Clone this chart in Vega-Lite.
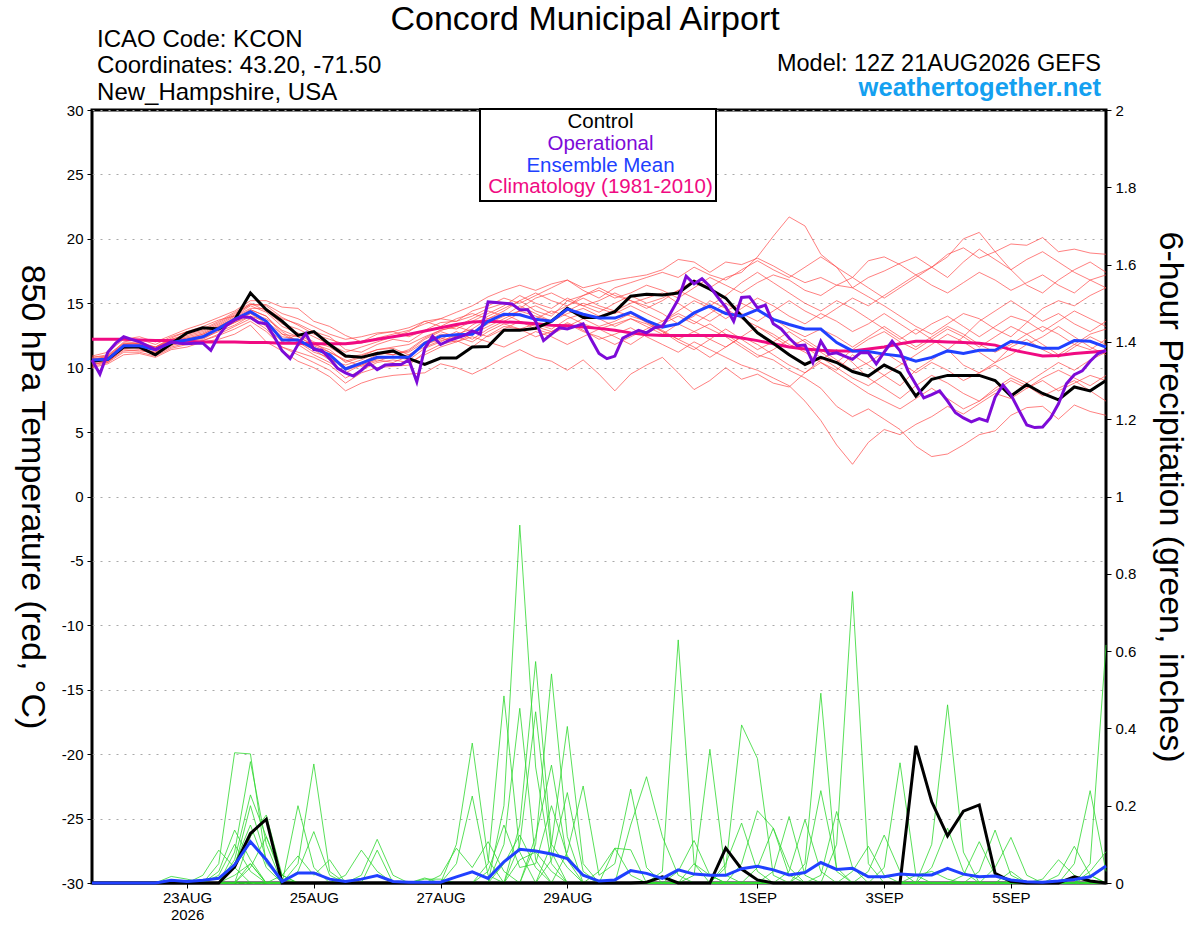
{
  "$schema": "https://vega.github.io/schema/vega-lite/v6.json",
  "width": 1014,
  "height": 773,
  "autosize": "none",
  "padding": {"left": 92, "top": 110, "right": 94, "bottom": 44},
  "background": "white",
  "config": {
    "font": "Liberation Sans",
    "view": {"stroke": "black", "strokeWidth": 3},
    "axis": {"domain": false, "tickColor": "black", "tickSize": 5, "tickWidth": 1, "labelColor": "black", "labelFontSize": 15, "labelPadding": 4, "titleColor": "black", "titleFontWeight": "normal", "titleFontSize": 34, "labelOverlap": false, "labelFlush": false}
  },
  "datasets": {
    "temp": [
      {"i":0,"C":10.5,"M":10.6,"K":12.2,"a":10.8,"b":10.4,"c":10.2,"d":10.5,"e":10.9,"f":10.0,"g":10.6,"h":10.3,"q":10.7,"j":10.4,"k":10.8,"l":10.1,"m":10.5,"n":10.3,"o":10.6,"p":10.7},
      {"i":1,"C":10.65,"M":10.65,"K":12.2,"a":11.0,"b":10.7,"c":10.5,"d":10.6,"e":11.2,"f":10.3,"g":10.9,"h":10.4,"q":10.8,"j":10.6,"k":10.9,"l":10.4,"m":10.7,"n":10.5,"o":10.8,"p":10.6},
      {"i":2,"C":11.6,"M":11.7,"K":12.2,"a":11.9,"b":11.6,"c":11.3,"d":11.8,"e":12.2,"f":11.0,"g":11.8,"h":11.5,"q":11.9,"j":11.4,"k":12.0,"l":11.2,"m":11.7,"n":11.5,"o":11.6,"p":11.8},
      {"i":3,"C":11.6,"M":11.7,"K":12.15,"a":12.0,"b":11.5,"c":11.4,"d":11.9,"e":12.4,"f":11.1,"g":11.7,"h":11.6,"q":11.8,"j":11.3,"k":12.2,"l":11.2,"m":11.6,"n":11.6,"o":11.8,"p":11.9},
      {"i":4,"C":11.0,"M":11.4,"K":12.1,"a":11.6,"b":11.2,"c":11.0,"d":11.3,"e":12.0,"f":10.8,"g":11.5,"h":11.1,"q":11.6,"j":11.2,"k":11.8,"l":10.9,"m":11.4,"n":11.3,"o":11.5,"p":11.6},
      {"i":5,"C":11.85,"M":11.95,"K":12.1,"a":12.2,"b":11.8,"c":11.6,"d":12.0,"e":12.5,"f":11.4,"g":12.1,"h":11.7,"q":12.3,"j":11.9,"k":12.4,"l":11.5,"m":12.0,"n":11.9,"o":12.2,"p":12.1},
      {"i":6,"C":12.7,"M":12.15,"K":12.05,"a":12.6,"b":12.0,"c":11.9,"d":12.3,"e":13.0,"f":11.6,"g":12.4,"h":12.1,"q":12.8,"j":12.0,"k":12.8,"l":11.8,"m":12.2,"n":12.1,"o":12.5,"p":12.3},
      {"i":7,"C":13.1,"M":12.4,"K":12.0,"a":12.9,"b":12.4,"c":12.1,"d":12.2,"e":13.4,"f":12.0,"g":12.7,"h":12.5,"q":13.2,"j":12.3,"k":13.0,"l":12.1,"m":12.6,"n":12.4,"o":12.8,"p":12.6},
      {"i":8,"C":13.0,"M":13.05,"K":12.0,"a":13.5,"b":13.1,"c":12.6,"d":12.9,"e":13.9,"f":12.2,"g":13.3,"h":13.0,"q":13.7,"j":12.8,"k":13.6,"l":12.5,"m":13.2,"n":13.0,"o":13.4,"p":13.2},
      {"i":9,"C":13.7,"M":13.75,"K":12.0,"a":14.2,"b":13.6,"c":13.2,"d":13.5,"e":14.4,"f":12.6,"g":14.0,"h":13.7,"q":14.0,"j":13.3,"k":14.3,"l":13.0,"m":13.9,"n":13.5,"o":14.1,"p":13.8},
      {"i":10,"C":15.8,"M":14.35,"K":11.95,"a":14.9,"b":14.5,"c":13.8,"d":14.0,"e":15.2,"f":13.3,"g":14.8,"h":14.2,"q":14.6,"j":14.0,"k":15.0,"l":13.6,"m":14.5,"n":14.2,"o":14.9,"p":14.4},
      {"i":11,"C":14.5,"M":13.6,"K":11.95,"a":14.8,"b":14.0,"c":13.0,"d":13.2,"e":15.2,"f":12.0,"g":14.3,"h":13.4,"q":14.6,"j":13.6,"k":14.4,"l":12.8,"m":14.0,"n":13.8,"o":14.9,"p":13.6},
      {"i":12,"C":13.6,"M":12.15,"K":11.9,"a":13.9,"b":12.8,"c":11.6,"d":12.0,"e":14.7,"f":11.3,"g":13.2,"h":12.2,"q":13.8,"j":12.4,"k":13.4,"l":11.6,"m":12.6,"n":12.9,"o":14.2,"p":12.6},
      {"i":13,"C":12.5,"M":12.15,"K":11.9,"a":13.3,"b":12.0,"c":11.0,"d":12.6,"e":14.6,"f":10.5,"g":12.7,"h":11.8,"q":13.4,"j":12.2,"k":13.0,"l":11.2,"m":12.4,"n":12.4,"o":13.8,"p":12.0},
      {"i":14,"C":12.8,"M":11.5,"K":11.85,"a":12.6,"b":11.4,"c":10.4,"d":11.9,"e":13.6,"f":10.0,"g":12.0,"h":11.0,"q":12.8,"j":11.6,"k":12.4,"l":10.8,"m":11.8,"n":11.7,"o":13.2,"p":11.2},
      {"i":15,"C":11.8,"M":11.0,"K":11.85,"a":12.2,"b":10.6,"c":9.8,"d":11.2,"e":13.2,"f":9.3,"g":11.6,"h":10.4,"q":12.4,"j":11.0,"k":11.8,"l":10.2,"m":11.4,"n":11.2,"o":12.6,"p":10.8},
      {"i":16,"C":10.9,"M":9.9,"K":11.85,"a":11.8,"b":10.2,"c":8.8,"d":10.6,"e":12.5,"f":8.2,"g":10.8,"h":9.6,"q":11.4,"j":10.0,"k":11.2,"l":9.2,"m":10.4,"n":10.5,"o":12.2,"p":9.8},
      {"i":17,"C":10.8,"M":10.35,"K":12.0,"a":11.9,"b":10.6,"c":9.6,"d":10.1,"e":12.0,"f":8.8,"g":11.0,"h":10.2,"q":11.2,"j":10.4,"k":11.6,"l":9.8,"m":10.8,"n":10.9,"o":12.4,"p":10.2},
      {"i":18,"C":11.1,"M":10.8,"K":12.2,"a":12.3,"b":11.2,"c":10.0,"d":10.5,"e":12.6,"f":9.2,"g":11.4,"h":10.6,"q":11.8,"j":11.0,"k":12.0,"l":10.4,"m":11.2,"n":11.4,"o":12.7,"p":10.7},
      {"i":19,"C":11.3,"M":10.8,"K":12.4,"a":12.6,"b":11.0,"c":10.1,"d":10.9,"e":12.8,"f":9.4,"g":11.6,"h":10.4,"q":12.2,"j":11.2,"k":12.4,"l":10.6,"m":11.0,"n":11.5,"o":12.8,"p":10.8},
      {"i":20,"C":10.7,"M":10.8,"K":12.6,"a":12.9,"b":11.3,"c":10.2,"d":10.6,"e":12.4,"f":9.5,"g":11.8,"h":10.9,"q":12.0,"j":11.2,"k":12.8,"l":10.4,"m":11.4,"n":11.0,"o":13.1,"p":11.0},
      {"i":21,"C":10.25,"M":11.9,"K":12.85,"a":13.4,"b":12.2,"c":11.2,"d":11.5,"e":12.9,"f":9.6,"g":12.4,"h":11.8,"q":12.8,"j":12.0,"k":13.6,"l":11.0,"m":12.3,"n":11.8,"o":13.6,"p":11.6},
      {"i":22,"C":10.75,"M":12.45,"K":13.1,"a":13.8,"b":12.8,"c":11.8,"d":12.0,"e":13.5,"f":10.3,"g":12.9,"h":12.2,"q":13.2,"j":12.6,"k":13.8,"l":11.6,"m":12.9,"n":12.3,"o":13.2,"p":12.1},
      {"i":23,"C":10.75,"M":12.55,"K":13.35,"a":14.3,"b":12.4,"c":12.1,"d":12.6,"e":13.6,"f":10.0,"g":13.2,"h":12.8,"q":13.0,"j":12.4,"k":13.6,"l":12.0,"m":13.2,"n":12.0,"o":13.8,"p":12.4},
      {"i":24,"C":11.6,"M":12.6,"K":13.55,"a":14.8,"b":13.3,"c":11.6,"d":13.0,"e":14.0,"f":9.5,"g":13.8,"h":12.2,"q":13.6,"j":12.0,"k":14.4,"l":12.4,"m":12.8,"n":12.6,"o":14.2,"p":12.8},
      {"i":25,"C":11.65,"M":13.6,"K":13.6,"a":15.5,"b":14.0,"c":12.5,"d":13.8,"e":14.6,"f":10.1,"g":14.4,"h":13.0,"q":14.2,"j":12.8,"k":14.8,"l":12.0,"m":13.4,"n":13.2,"o":13.8,"p":12.4},
      {"i":26,"C":12.9,"M":14.15,"K":13.55,"a":16.0,"b":14.6,"c":13.2,"d":14.2,"e":15.0,"f":10.8,"g":14.0,"h":13.6,"q":14.8,"j":13.4,"k":15.4,"l":11.6,"m":14.0,"n":13.8,"o":14.4,"p":13.0},
      {"i":27,"C":12.9,"M":14.1,"K":13.5,"a":16.4,"b":15.2,"c":13.0,"d":13.6,"e":14.6,"f":11.4,"g":14.8,"h":14.2,"q":15.6,"j":13.0,"k":15.0,"l":12.2,"m":14.4,"n":14.4,"o":15.2,"p":13.6},
      {"i":28,"C":13.05,"M":13.75,"K":13.4,"a":16.0,"b":14.4,"c":12.4,"d":13.0,"e":15.4,"f":10.8,"g":14.2,"h":13.8,"q":15.0,"j":13.4,"k":15.6,"l":12.8,"m":14.0,"n":14.8,"o":15.8,"p":13.2},
      {"i":29,"C":13.6,"M":13.6,"K":13.3,"a":16.5,"b":14.0,"c":12.8,"d":12.6,"e":15.8,"f":10.5,"g":13.6,"h":14.4,"q":14.6,"j":13.0,"k":16.2,"l":12.4,"m":13.6,"n":14.2,"o":15.2,"p":12.8},
      {"i":30,"C":14.6,"M":14.55,"K":13.25,"a":16.8,"b":15.2,"c":13.5,"d":13.2,"e":15.2,"f":9.8,"g":14.4,"h":14.0,"q":15.4,"j":13.8,"k":16.8,"l":11.8,"m":14.2,"n":14.8,"o":14.8,"p":13.4},
      {"i":31,"C":13.9,"M":14.15,"K":13.15,"a":16.2,"b":14.8,"c":12.9,"d":13.8,"e":15.6,"f":10.6,"g":15.0,"h":13.4,"q":14.8,"j":14.2,"k":16.0,"l":12.4,"m":14.6,"n":15.4,"o":15.6,"p":12.8},
      {"i":32,"C":13.9,"M":13.85,"K":13.05,"a":16.5,"b":14.3,"c":12.2,"d":13.2,"e":16.0,"f":9.5,"g":14.6,"h":13.0,"q":15.2,"j":13.8,"k":15.4,"l":13.0,"m":14.0,"n":14.8,"o":16.2,"p":12.4},
      {"i":33,"C":14.35,"M":13.85,"K":12.9,"a":16.8,"b":15.0,"c":12.6,"d":13.6,"e":15.4,"f":8.2,"g":14.2,"h":13.4,"q":15.8,"j":13.2,"k":16.2,"l":12.4,"m":14.4,"n":14.4,"o":15.6,"p":11.8},
      {"i":34,"C":15.55,"M":14.3,"K":12.7,"a":17.0,"b":15.6,"c":13.1,"d":14.2,"e":15.8,"f":9.5,"g":14.8,"h":13.8,"q":15.2,"j":13.8,"k":16.6,"l":11.8,"m":14.0,"n":15.0,"o":15.2,"p":12.4},
      {"i":35,"C":15.7,"M":13.65,"K":12.55,"a":17.2,"b":15.0,"c":12.4,"d":13.5,"e":16.4,"f":10.2,"g":14.2,"h":13.2,"q":14.6,"j":13.4,"k":17.0,"l":12.6,"m":13.6,"n":15.4,"o":14.8,"p":13.0},
      {"i":36,"C":15.65,"M":13.15,"K":12.5,"a":17.6,"b":15.4,"c":11.8,"d":12.9,"e":16.0,"f":10.8,"g":13.6,"h":12.6,"q":15.2,"j":12.8,"k":17.4,"l":13.4,"m":12.8,"n":15.8,"o":14.2,"p":13.6},
      {"i":37,"C":15.8,"M":13.4,"K":12.5,"a":18.4,"b":16.0,"c":11.2,"d":12.2,"e":15.4,"f":9.6,"g":14.4,"h":13.4,"q":16.0,"j":12.0,"k":17.0,"l":14.0,"m":12.2,"n":15.0,"o":13.4,"p":14.2},
      {"i":38,"C":16.7,"M":14.25,"K":12.5,"a":18.2,"b":16.8,"c":12.0,"d":12.8,"e":16.2,"f":8.3,"g":15.2,"h":14.0,"q":15.4,"j":11.4,"k":17.8,"l":13.4,"m":11.6,"n":14.2,"o":12.8,"p":13.6},
      {"i":39,"C":16.1,"M":14.8,"K":12.5,"a":17.4,"b":16.2,"c":11.4,"d":13.4,"e":17.0,"f":9.0,"g":14.6,"h":15.2,"q":14.8,"j":12.2,"k":17.2,"l":14.2,"m":10.8,"n":13.6,"o":12.2,"p":13.0},
      {"i":40,"C":15.4,"M":14.2,"K":12.5,"a":18.2,"b":17.0,"c":10.8,"d":12.6,"e":16.4,"f":10.0,"g":13.8,"h":14.6,"q":15.6,"j":13.0,"k":16.8,"l":15.0,"m":11.6,"n":14.4,"o":11.6,"p":12.4},
      {"i":41,"C":14.0,"M":14.0,"K":12.3,"a":18.0,"b":17.4,"c":10.2,"d":11.8,"e":15.8,"f":9.1,"g":14.6,"h":13.8,"q":16.6,"j":12.2,"k":17.6,"l":14.2,"m":12.4,"n":15.0,"o":12.4,"p":11.6},
      {"i":42,"C":12.7,"M":14.5,"K":12.1,"a":18.5,"b":18.6,"c":9.8,"d":11.0,"e":16.6,"f":9.5,"g":15.4,"h":13.2,"q":17.4,"j":11.4,"k":18.3,"l":13.6,"m":11.8,"n":14.4,"o":13.2,"p":10.8},
      {"i":43,"C":11.9,"M":13.75,"K":11.85,"a":17.9,"b":20.2,"c":9.2,"d":10.6,"e":17.2,"f":8.8,"g":14.8,"h":12.4,"q":16.6,"j":12.0,"k":17.6,"l":14.4,"m":11.0,"n":13.8,"o":12.6,"p":11.4},
      {"i":44,"C":11.0,"M":13.35,"K":11.6,"a":17.2,"b":21.7,"c":8.6,"d":9.8,"e":16.8,"f":8.5,"g":14.0,"h":11.6,"q":15.8,"j":12.8,"k":17.0,"l":15.2,"m":10.2,"n":13.0,"o":11.8,"p":12.2},
      {"i":45,"C":10.25,"M":13.0,"K":11.45,"a":16.6,"b":21.0,"c":7.4,"d":9.2,"e":16.0,"f":9.6,"g":13.4,"h":12.2,"q":15.0,"j":12.0,"k":17.8,"l":14.4,"m":9.6,"n":12.4,"o":11.2,"p":11.6},
      {"i":46,"C":10.8,"M":13.0,"K":11.35,"a":17.0,"b":18.8,"c":5.9,"d":8.4,"e":15.6,"f":10.4,"g":14.2,"h":11.4,"q":14.4,"j":11.2,"k":18.6,"l":13.8,"m":10.6,"n":13.0,"o":10.4,"p":10.8},
      {"i":47,"C":10.4,"M":11.95,"K":11.3,"a":16.4,"b":17.8,"c":4.0,"d":7.0,"e":16.4,"f":9.8,"g":13.6,"h":10.6,"q":15.2,"j":10.4,"k":17.8,"l":14.6,"m":11.4,"n":12.4,"o":9.6,"p":10.0},
      {"i":48,"C":9.7,"M":11.3,"K":11.3,"a":16.2,"b":16.2,"c":2.5,"d":6.2,"e":17.0,"f":11.0,"g":12.8,"h":9.8,"q":14.6,"j":11.4,"k":17.0,"l":15.4,"m":10.4,"n":11.6,"o":8.8,"p":9.2},
      {"i":49,"C":9.35,"M":11.25,"K":11.45,"a":17.0,"b":15.5,"c":4.2,"d":6.8,"e":18.3,"f":10.2,"g":13.4,"h":10.4,"q":13.8,"j":12.2,"k":16.2,"l":14.8,"m":9.2,"n":12.4,"o":8.0,"p":8.6},
      {"i":50,"C":10.2,"M":11.05,"K":11.6,"a":17.5,"b":14.8,"c":5.2,"d":6.0,"e":18.6,"f":9.4,"g":14.2,"h":11.2,"q":13.0,"j":12.8,"k":15.4,"l":15.6,"m":8.4,"n":13.2,"o":7.4,"p":9.4},
      {"i":51,"C":9.6,"M":10.9,"K":11.85,"a":18.1,"b":14.0,"c":4.8,"d":5.2,"e":18.0,"f":8.6,"g":13.4,"h":10.4,"q":12.2,"j":12.0,"k":16.2,"l":16.4,"m":7.6,"n":12.4,"o":6.8,"p":10.2},
      {"i":52,"C":7.8,"M":10.5,"K":12.05,"a":18.6,"b":13.2,"c":5.6,"d":3.9,"e":17.2,"f":9.8,"g":12.6,"h":9.6,"q":13.0,"j":11.4,"k":17.0,"l":17.2,"m":8.6,"n":11.6,"o":7.6,"p":11.0},
      {"i":53,"C":9.1,"M":10.8,"K":12.05,"a":17.8,"b":12.6,"c":6.2,"d":3.1,"e":16.4,"f":10.6,"g":13.4,"h":10.4,"q":12.2,"j":12.2,"k":17.8,"l":17.8,"m":9.4,"n":12.4,"o":8.4,"p":11.8},
      {"i":54,"C":9.4,"M":11.3,"K":12.0,"a":18.8,"b":13.4,"c":7.0,"d":3.3,"e":15.8,"f":11.4,"g":14.0,"h":9.8,"q":11.4,"j":13.0,"k":17.0,"l":18.6,"m":8.8,"n":13.2,"o":7.6,"p":12.6},
      {"i":55,"C":9.4,"M":11.1,"K":11.95,"a":19.3,"b":14.2,"c":6.4,"d":4.0,"e":16.6,"f":10.2,"g":13.2,"h":9.0,"q":12.4,"j":12.4,"k":18.2,"l":20.0,"m":8.0,"n":12.6,"o":6.8,"p":12.0},
      {"i":56,"C":9.4,"M":11.35,"K":11.9,"a":18.5,"b":13.8,"c":7.2,"d":4.8,"e":17.4,"f":9.6,"g":12.4,"h":9.6,"q":13.6,"j":11.6,"k":19.2,"l":20.5,"m":7.4,"n":11.8,"o":7.4,"p":11.2},
      {"i":57,"C":9.0,"M":11.35,"K":11.75,"a":19.0,"b":13.0,"c":8.0,"d":5.1,"e":16.8,"f":10.4,"g":13.2,"h":10.2,"q":14.4,"j":12.4,"k":18.4,"l":19.0,"m":8.4,"n":11.2,"o":8.2,"p":10.4},
      {"i":58,"C":7.8,"M":12.05,"K":11.4,"a":19.6,"b":12.4,"c":7.6,"d":6.3,"e":16.0,"f":11.6,"g":14.0,"h":9.4,"q":15.2,"j":13.2,"k":17.6,"l":17.6,"m":9.2,"n":11.8,"o":9.0,"p":11.0},
      {"i":59,"C":8.7,"M":11.85,"K":11.15,"a":19.5,"b":13.5,"c":8.4,"d":6.9,"e":16.6,"f":12.2,"g":13.6,"h":8.8,"q":14.4,"j":12.6,"k":18.4,"l":16.4,"m":8.6,"n":12.6,"o":8.4,"p":11.8},
      {"i":60,"C":8.0,"M":11.5,"K":10.9,"a":20.1,"b":14.6,"c":9.0,"d":7.0,"e":17.2,"f":11.4,"g":12.8,"h":9.6,"q":13.6,"j":11.8,"k":19.0,"l":15.8,"m":7.8,"n":13.2,"o":9.2,"p":12.4},
      {"i":61,"C":7.5,"M":11.5,"K":10.95,"a":19.0,"b":15.2,"c":8.2,"d":6.0,"e":16.4,"f":10.8,"g":13.6,"h":10.4,"q":14.2,"j":11.0,"k":18.2,"l":16.8,"m":8.4,"n":12.6,"o":9.8,"p":13.2},
      {"i":62,"C":8.5,"M":12.1,"K":11.1,"a":19.2,"b":14.8,"c":8.8,"d":7.1,"e":15.8,"f":11.6,"g":14.4,"h":9.8,"q":13.4,"j":11.8,"k":17.4,"l":17.6,"m":9.0,"n":11.8,"o":9.2,"p":12.4},
      {"i":63,"C":8.2,"M":12.05,"K":11.2,"a":18.9,"b":15.6,"c":9.4,"d":6.6,"e":16.8,"f":12.4,"g":13.8,"h":10.6,"q":12.8,"j":12.6,"k":16.8,"l":18.2,"m":8.2,"n":11.4,"o":8.6,"p":11.6},
      {"i":64,"C":9.0,"M":11.6,"K":11.3,"a":18.8,"b":16.2,"c":9.0,"d":6.3,"e":17.2,"f":11.8,"g":13.2,"h":11.2,"q":13.6,"j":13.0,"k":16.2,"l":17.4,"m":7.4,"n":12.2,"o":9.4,"p":11.0}
    ],
    "oper": [
      {"i":0,"v":10.6},{"i":0.5,"v":9.5},{"i":1,"v":11.2},{"i":1.5,"v":11.9},{"i":2,"v":12.4},{"i":2.5,"v":12.2},{"i":3,"v":12.0},{"i":3.5,"v":11.7},{"i":4,"v":11.4},{"i":4.5,"v":11.7},
      {"i":5,"v":12.0},{"i":5.5,"v":11.9},{"i":6,"v":11.85},{"i":6.5,"v":11.9},{"i":7,"v":11.9},{"i":7.5,"v":11.35},{"i":8,"v":12.5},{"i":8.5,"v":13.3},{"i":9,"v":13.7},{"i":9.5,"v":13.95},
      {"i":10,"v":13.9},{"i":10.5,"v":13.5},{"i":11,"v":13.4},{"i":11.5,"v":12.4},{"i":12,"v":11.3},{"i":12.5,"v":10.7},{"i":13,"v":11.8},{"i":13.5,"v":12.65},{"i":14,"v":11.4},{"i":14.5,"v":11.35},
      {"i":15,"v":10.7},{"i":15.5,"v":9.95},{"i":16,"v":9.6},{"i":16.5,"v":9.35},{"i":17,"v":9.8},{"i":17.5,"v":10.35},{"i":18,"v":9.85},{"i":18.5,"v":10.2},{"i":19,"v":10.25},{"i":19.5,"v":10.25},
      {"i":20,"v":10.6},{"i":20.5,"v":8.9},{"i":21,"v":11.5},{"i":21.5,"v":12.45},{"i":22,"v":11.8},{"i":22.5,"v":12.1},{"i":23,"v":12.3},{"i":23.5,"v":12.5},{"i":24,"v":12.85},{"i":24.5,"v":12.6},
      {"i":25,"v":15.1},{"i":25.5,"v":15.05},{"i":26,"v":15.0},{"i":26.5,"v":14.95},{"i":27,"v":14.5},{"i":27.5,"v":14.5},{"i":28,"v":13.6},{"i":28.5,"v":12.1},{"i":29,"v":12.6},{"i":29.5,"v":13.1},
      {"i":30,"v":13.0},{"i":30.5,"v":13.2},{"i":31,"v":13.4},{"i":31.5,"v":12.2},{"i":32,"v":11.1},{"i":32.5,"v":10.7},{"i":33,"v":10.9},{"i":33.5,"v":12.3},{"i":34,"v":12.6},{"i":34.5,"v":12.9},
      {"i":35,"v":12.7},{"i":35.5,"v":13.1},{"i":36,"v":13.2},{"i":36.5,"v":14.2},{"i":37,"v":15.3},{"i":37.5,"v":17.1},{"i":38,"v":16.5},{"i":38.5,"v":16.9},{"i":39,"v":16.3},{"i":39.5,"v":15.45},
      {"i":40,"v":14.7},{"i":40.5,"v":13.6},{"i":41,"v":15.45},{"i":41.5,"v":15.5},{"i":42,"v":14.65},{"i":42.5,"v":14.85},{"i":43,"v":13.4},{"i":43.5,"v":13.0},{"i":44,"v":12.3},{"i":44.5,"v":11.7},
      {"i":45,"v":11.75},{"i":45.5,"v":10.4},{"i":46,"v":12.05},{"i":46.5,"v":11.05},{"i":47,"v":11.15},{"i":47.5,"v":10.9},{"i":48,"v":10.65},{"i":48.5,"v":11.15},{"i":49,"v":11.15},{"i":49.5,"v":10.3},
      {"i":50,"v":11.2},{"i":50.5,"v":12.05},{"i":51,"v":11.3},{"i":51.5,"v":9.75},{"i":52,"v":8.7},{"i":52.5,"v":7.65},{"i":53,"v":7.9},{"i":53.5,"v":8.2},{"i":54,"v":7.4},{"i":54.5,"v":6.5},
      {"i":55,"v":6.1},{"i":55.5,"v":5.8},{"i":56,"v":6.05},{"i":56.5,"v":5.85},{"i":57,"v":7.7},{"i":57.5,"v":8.65},{"i":58,"v":7.9},{"i":58.5,"v":6.7},{"i":59,"v":5.55},{"i":59.5,"v":5.35},
      {"i":60,"v":5.4},{"i":60.5,"v":6.1},{"i":61,"v":7.2},{"i":61.5,"v":8.75},{"i":62,"v":9.45},{"i":62.5,"v":9.75},{"i":63,"v":10.5},{"i":63.5,"v":11.1},{"i":64,"v":11.35}
    ],
    "prcp": [
      {"i":0,"C":0,"M":0,"a":0,"b":0,"c":0,"d":0,"e":0,"f":0,"g":0,"h":0,"q":0,"j":0,"k":0,"l":0,"m":0,"n":0,"o":0,"p":0},
      {"i":1,"C":0,"M":0,"a":0,"b":0,"c":0,"d":0,"e":0,"f":0,"g":0,"h":0,"q":0,"j":0,"k":0,"l":0,"m":0,"n":0,"o":0,"p":0},
      {"i":2,"C":0,"M":0,"a":0,"b":0,"c":0,"d":0,"e":0,"f":0,"g":0,"h":0,"q":0,"j":0,"k":0,"l":0,"m":0,"n":0,"o":0,"p":0},
      {"i":3,"C":0,"M":0,"a":0,"b":0,"c":0,"d":0,"e":0,"f":0,"g":0,"h":0,"q":0,"j":0,"k":0,"l":0,"m":0,"n":0,"o":0,"p":0},
      {"i":4,"C":0,"M":0,"a":0,"b":0,"c":0,"d":0,"e":0,"f":0,"g":0,"h":0,"q":0,"j":0,"k":0,"l":0,"m":0,"n":0,"o":0,"p":0},
      {"i":5,"C":0,"M":0.007,"a":0,"b":0,"c":0,"d":0,"e":0,"f":0,"g":0,"h":0,"q":0,"j":0,"k":0,"l":0,"m":0,"n":0,"o":0,"p":0.017},
      {"i":6,"C":0,"M":0.004,"a":0,"b":0,"c":0,"d":0,"e":0,"f":0,"g":0,"h":0,"q":0,"j":0,"k":0,"l":0,"m":0,"n":0,"o":0,"p":0.01},
      {"i":7,"C":0,"M":0.007,"a":0,"b":0,"c":0,"d":0,"e":0,"f":0,"g":0.02,"h":0,"q":0,"j":0,"k":0,"l":0,"m":0,"n":0,"o":0,"p":0},
      {"i":8,"C":0,"M":0.012,"a":0.05,"b":0,"c":0,"d":0,"e":0.03,"f":0,"g":0.085,"h":0,"q":0,"j":0,"k":0,"l":0,"m":0,"n":0,"o":0.02,"p":0},
      {"i":9,"C":0.042,"M":0.047,"a":0.337,"b":0.08,"c":0.06,"d":0,"e":0.137,"f":0.04,"g":0.04,"h":0,"q":0,"j":0,"k":0,"l":0.02,"m":0.05,"n":0,"o":0.1,"p":0},
      {"i":10,"C":0.128,"M":0.107,"a":0.334,"b":0.314,"c":0.228,"d":0.12,"e":0.06,"f":0.2,"g":0,"h":0,"q":0,"j":0.05,"k":0,"l":0.05,"m":0.15,"n":0.04,"o":0.03,"p":0},
      {"i":11,"C":0.165,"M":0.06,"a":0.05,"b":0.1,"c":0.12,"d":0.176,"e":0,"f":0.06,"g":0,"h":0,"q":0,"j":0,"k":0,"l":0,"m":0.04,"n":0.12,"o":0,"p":0},
      {"i":12,"C":0,"M":0.004,"a":0.01,"b":0,"c":0.02,"d":0.02,"e":0,"f":0,"g":0,"h":0,"q":0,"j":0,"k":0.02,"l":0,"m":0,"n":0.01,"o":0,"p":0},
      {"i":13,"C":0,"M":0.026,"a":0,"b":0.05,"c":0,"d":0,"e":0.2,"f":0,"g":0,"h":0.03,"q":0,"j":0,"k":0.07,"l":0,"m":0,"n":0,"o":0,"p":0},
      {"i":14,"C":0,"M":0.026,"a":0,"b":0.308,"c":0,"d":0,"e":0.04,"f":0,"g":0,"h":0.133,"q":0,"j":0,"k":0.02,"l":0,"m":0,"n":0,"o":0,"p":0},
      {"i":15,"C":0,"M":0.01,"a":0,"b":0.03,"c":0,"d":0,"e":0,"f":0,"g":0,"h":0.02,"q":0,"j":0,"k":0.06,"l":0,"m":0,"n":0,"o":0,"p":0},
      {"i":16,"C":0,"M":0.004,"a":0,"b":0,"c":0,"d":0,"e":0,"f":0,"g":0,"h":0,"q":0,"j":0.02,"k":0,"l":0,"m":0,"n":0,"o":0,"p":0},
      {"i":17,"C":0,"M":0.01,"a":0,"b":0,"c":0,"d":0,"e":0,"f":0,"g":0,"h":0,"q":0.02,"j":0.085,"k":0,"l":0,"m":0,"n":0,"o":0,"p":0},
      {"i":18,"C":0,"M":0.019,"a":0,"b":0,"c":0,"d":0,"e":0,"f":0,"g":0,"h":0,"q":0.113,"j":0.03,"k":0,"l":0.085,"m":0,"n":0,"o":0,"p":0},
      {"i":19,"C":0,"M":0.004,"a":0,"b":0,"c":0,"d":0,"e":0,"f":0,"g":0,"h":0,"q":0.02,"j":0,"k":0,"l":0,"m":0,"n":0,"o":0,"p":0},
      {"i":20,"C":0,"M":0.002,"a":0,"b":0,"c":0,"d":0,"e":0,"f":0,"g":0,"h":0,"q":0,"j":0,"k":0,"l":0,"m":0,"n":0,"o":0,"p":0},
      {"i":21,"C":0,"M":0.002,"a":0,"b":0,"c":0,"d":0,"e":0,"f":0,"g":0,"h":0,"q":0,"j":0,"k":0,"l":0,"m":0,"n":0,"o":0.01,"p":0.013},
      {"i":22,"C":0,"M":0.002,"a":0,"b":0,"c":0,"d":0,"e":0,"f":0,"g":0,"h":0,"q":0,"j":0,"k":0.02,"l":0,"m":0,"n":0,"o":0.01,"p":0},
      {"i":23,"C":0,"M":0.016,"a":0,"b":0,"c":0,"d":0,"e":0,"f":0,"g":0.1,"h":0.05,"q":0,"j":0,"k":0.09,"l":0,"m":0,"n":0,"o":0,"p":0},
      {"i":24,"C":0,"M":0.029,"a":0,"b":0,"c":0,"d":0,"e":0,"f":0,"g":0.362,"h":0.225,"q":0,"j":0,"k":0.04,"l":0,"m":0,"n":0,"o":0,"p":0},
      {"i":25,"C":0,"M":0.012,"a":0,"b":0,"c":0,"d":0.05,"e":0,"f":0,"g":0.06,"h":0.02,"q":0,"j":0,"k":0.107,"l":0,"m":0,"n":0,"o":0,"p":0.03},
      {"i":26,"C":0,"M":0.055,"a":0.2,"b":0,"c":0,"d":0.484,"e":0.1,"f":0,"g":0,"h":0,"q":0,"j":0,"k":0.03,"l":0.05,"m":0,"n":0,"o":0,"p":0.15},
      {"i":27,"C":0,"M":0.087,"a":0.926,"b":0.15,"c":0,"d":0.08,"e":0.452,"f":0,"g":0,"h":0,"q":0,"j":0,"k":0,"l":0.124,"m":0.1,"n":0,"o":0.06,"p":0.04},
      {"i":28,"C":0,"M":0.083,"a":0.3,"b":0.573,"c":0.1,"d":0,"e":0.06,"f":0,"g":0,"h":0.12,"q":0,"j":0,"k":0,"l":0.04,"m":0.443,"n":0,"o":0.08,"p":0.05},
      {"i":29,"C":0,"M":0.075,"a":0.05,"b":0.1,"c":0.541,"d":0,"e":0,"f":0.1,"g":0,"h":0.305,"q":0,"j":0.06,"k":0,"l":0,"m":0.08,"n":0,"o":0.03,"p":0.2},
      {"i":30,"C":0,"M":0.063,"a":0,"b":0.04,"c":0.12,"d":0,"e":0,"f":0.405,"g":0,"h":0.06,"q":0.08,"j":0.234,"k":0,"l":0,"m":0,"n":0,"o":0,"p":0.07},
      {"i":31,"C":0,"M":0.02,"a":0,"b":0,"c":0,"d":0,"e":0,"f":0.05,"g":0,"h":0,"q":0.251,"j":0.03,"k":0,"l":0,"m":0,"n":0,"o":0,"p":0.02},
      {"i":32,"C":0,"M":0.005,"a":0,"b":0,"c":0,"d":0,"e":0,"f":0,"g":0,"h":0,"q":0.02,"j":0,"k":0,"l":0,"m":0,"n":0.03,"o":0,"p":0},
      {"i":33,"C":0,"M":0.008,"a":0,"b":0,"c":0,"d":0,"e":0,"f":0,"g":0,"h":0,"q":0.05,"j":0,"k":0,"l":0,"m":0,"n":0.09,"o":0.09,"p":0},
      {"i":34,"C":0,"M":0.032,"a":0,"b":0,"c":0,"d":0,"e":0,"f":0,"g":0.15,"h":0,"q":0.243,"j":0,"k":0,"l":0,"m":0,"n":0.086,"o":0.02,"p":0},
      {"i":35,"C":0.002,"M":0.025,"a":0,"b":0,"c":0,"d":0,"e":0,"f":0,"g":0.275,"h":0,"q":0.04,"j":0,"k":0,"l":0,"m":0,"n":0,"o":0,"p":0},
      {"i":36,"C":0.016,"M":0.012,"a":0,"b":0,"c":0.03,"d":0,"e":0,"f":0,"g":0.12,"h":0,"q":0,"j":0,"k":0,"l":0,"m":0,"n":0,"o":0,"p":0},
      {"i":37,"C":0,"M":0.034,"a":0,"b":0,"c":0.629,"d":0,"e":0,"f":0,"g":0.02,"h":0,"q":0,"j":0,"k":0,"l":0,"m":0,"n":0.03,"o":0,"p":0},
      {"i":38,"C":0,"M":0.023,"a":0,"b":0,"c":0.05,"d":0,"e":0.02,"f":0,"g":0,"h":0,"q":0,"j":0,"k":0,"l":0,"m":0,"n":0.11,"o":0,"p":0.05},
      {"i":39,"C":0,"M":0.02,"a":0,"b":0,"c":0,"d":0,"e":0.346,"f":0,"g":0,"h":0,"q":0,"j":0,"k":0,"l":0,"m":0,"n":0.02,"o":0,"p":0.02},
      {"i":40,"C":0.09,"M":0.02,"a":0,"b":0,"c":0,"d":0.04,"e":0.02,"f":0,"g":0,"h":0,"q":0,"j":0,"k":0,"l":0.05,"m":0,"n":0,"o":0,"p":0},
      {"i":41,"C":0.036,"M":0.037,"a":0,"b":0,"c":0,"d":0.409,"e":0,"f":0,"g":0,"h":0,"q":0,"j":0.05,"k":0,"l":0.155,"m":0,"n":0,"o":0,"p":0},
      {"i":42,"C":0.008,"M":0.043,"a":0,"b":0,"c":0,"d":0.322,"e":0,"f":0,"g":0,"h":0,"q":0,"j":0.187,"k":0,"l":0.03,"m":0,"n":0,"o":0.04,"p":0},
      {"i":43,"C":0,"M":0.034,"a":0,"b":0,"c":0,"d":0.02,"e":0,"f":0.03,"g":0,"h":0,"q":0,"j":0.142,"k":0,"l":0,"m":0,"n":0,"o":0.142,"p":0},
      {"i":44,"C":0,"M":0.021,"a":0,"b":0,"c":0,"d":0,"e":0,"f":0.172,"g":0,"h":0,"q":0,"j":0.04,"k":0,"l":0,"m":0.03,"n":0,"o":0.02,"p":0},
      {"i":45,"C":0,"M":0.027,"a":0,"b":0.05,"c":0,"d":0,"e":0,"f":0.02,"g":0.03,"h":0,"q":0,"j":0,"k":0,"l":0,"m":0.164,"n":0,"o":0,"p":0},
      {"i":46,"C":0,"M":0.053,"a":0,"b":0.491,"c":0,"d":0,"e":0,"f":0,"g":0.239,"h":0.02,"q":0,"j":0,"k":0,"l":0,"m":0.03,"n":0,"o":0,"p":0},
      {"i":47,"C":0,"M":0.035,"a":0.1,"b":0.03,"c":0,"d":0,"e":0,"f":0,"g":0.04,"h":0.185,"q":0,"j":0,"k":0,"l":0,"m":0,"n":0,"o":0,"p":0},
      {"i":48,"C":0,"M":0.038,"a":0.754,"b":0,"c":0,"d":0,"e":0,"f":0,"g":0,"h":0.04,"q":0,"j":0,"k":0,"l":0,"m":0,"n":0.03,"o":0,"p":0},
      {"i":49,"C":0,"M":0.016,"a":0.05,"b":0,"c":0,"d":0,"e":0,"f":0,"g":0,"h":0,"q":0,"j":0,"k":0,"l":0.03,"m":0,"n":0.095,"o":0,"p":0},
      {"i":50,"C":0,"M":0.016,"a":0,"b":0,"c":0,"d":0,"e":0.04,"f":0,"g":0,"h":0,"q":0,"j":0,"k":0,"l":0.124,"m":0,"n":0.02,"o":0,"p":0},
      {"i":51,"C":0,"M":0.023,"a":0,"b":0,"c":0,"d":0,"e":0.311,"f":0,"g":0,"h":0,"q":0,"j":0,"k":0,"l":0.03,"m":0,"n":0,"o":0,"p":0},
      {"i":52,"C":0.355,"M":0.021,"a":0,"b":0,"c":0,"d":0,"e":0.02,"f":0,"g":0,"h":0,"q":0,"j":0,"k":0,"l":0,"m":0,"n":0,"o":0,"p":0.02},
      {"i":53,"C":0.21,"M":0.021,"a":0,"b":0,"c":0.1,"d":0,"e":0,"f":0,"g":0,"h":0,"q":0.04,"j":0,"k":0,"l":0,"m":0,"n":0,"o":0,"p":0.03},
      {"i":54,"C":0.122,"M":0.038,"a":0,"b":0,"c":0.461,"d":0,"e":0,"f":0,"g":0,"h":0,"q":0.142,"j":0,"k":0,"l":0,"m":0,"n":0,"o":0,"p":0.01},
      {"i":55,"C":0.186,"M":0.023,"a":0,"b":0,"c":0.08,"d":0,"e":0,"f":0,"g":0,"h":0,"q":0.03,"j":0,"k":0,"l":0.02,"m":0,"n":0,"o":0,"p":0},
      {"i":56,"C":0.202,"M":0.016,"a":0,"b":0,"c":0,"d":0,"e":0,"f":0,"g":0,"h":0,"q":0,"j":0.03,"k":0,"l":0.107,"m":0,"n":0,"o":0,"p":0},
      {"i":57,"C":0.025,"M":0.018,"a":0,"b":0,"c":0,"d":0,"e":0,"f":0,"g":0,"h":0,"q":0,"j":0.137,"k":0.04,"l":0.02,"m":0,"n":0,"o":0,"p":0},
      {"i":58,"C":0.004,"M":0.008,"a":0,"b":0,"c":0,"d":0.03,"e":0,"f":0,"g":0,"h":0,"q":0,"j":0.02,"k":0.118,"l":0,"m":0,"n":0,"o":0,"p":0},
      {"i":59,"C":0,"M":0.003,"a":0,"b":0,"c":0,"d":0,"e":0,"f":0,"g":0,"h":0,"q":0,"j":0,"k":0.02,"l":0,"m":0,"n":0,"o":0,"p":0},
      {"i":60,"C":0,"M":0.002,"a":0,"b":0,"c":0,"d":0,"e":0,"f":0,"g":0,"h":0,"q":0,"j":0,"k":0,"l":0,"m":0,"n":0.01,"o":0,"p":0},
      {"i":61,"C":0,"M":0.005,"a":0,"b":0,"c":0,"d":0,"e":0,"f":0,"g":0,"h":0,"q":0,"j":0,"k":0,"l":0,"m":0.02,"n":0.06,"o":0,"p":0},
      {"i":62,"C":0.016,"M":0.009,"a":0,"b":0,"c":0,"d":0,"e":0,"f":0.05,"g":0,"h":0,"q":0,"j":0,"k":0,"l":0,"m":0.095,"n":0.02,"o":0,"p":0},
      {"i":63,"C":0.005,"M":0.016,"a":0.02,"b":0.05,"c":0,"d":0,"e":0,"f":0.239,"g":0,"h":0,"q":0,"j":0,"k":0,"l":0,"m":0.02,"n":0,"o":0.03,"p":0},
      {"i":64,"C":0,"M":0.044,"a":0,"b":0.616,"c":0,"d":0,"e":0,"f":0.03,"g":0,"h":0,"q":0,"j":0,"k":0,"l":0,"m":0,"n":0,"o":0.081,"p":0}
    ]
  },
  "layer": [
    {
      "layer": [
        {
          "data": {"name": "temp"},
          "transform": [{"fold": ["a","b","c","d","e","f","g","h","q","j","k","l","m","n","o","p"], "as": ["ens","v"]}],
          "mark": {"type": "line", "color": "#ff4343", "strokeWidth": 0.8, "opacity": 0.85},
          "encoding": {
            "x": {"field": "i", "type": "quantitative", "scale": {"domain": [0, 64], "nice": false, "zero": false},
              "axis": {"values": [6, 14, 22, 30, 42, 50, 58], "title": null, "grid": false, "labelPadding": 2, "labelLineHeight": 17,
                "labelExpr": "datum.value == 6 ? ['23AUG', '2026'] : {'14': '25AUG', '22': '27AUG', '30': '29AUG', '42': '1SEP', '50': '3SEP', '58': '5SEP'}[datum.value]"}},
            "y": {"field": "v", "type": "quantitative", "scale": {"domain": [-30, 30], "nice": false, "zero": false},
              "axis": {"values": [-30, -25, -20, -15, -10, -5, 0, 5, 10, 15, 20, 25, 30], "labelExpr": "'' + datum.value",
                "grid": true, "gridColor": "#a9a9a9", "gridDash": [2, 6], "gridWidth": 1.2,
                "title": "850 hPa Temperature (red, °C)", "titleAngle": 90, "titleBaseline": "top", "titlePadding": 13}},
            "detail": {"field": "ens"}
          }
        },
        {
          "data": {"name": "temp"},
          "transform": [{"fold": ["K", "C", "M"], "as": ["s", "v"]}],
          "mark": {"type": "line", "strokeWidth": 3},
          "encoding": {
            "x": {"field": "i", "type": "quantitative"},
            "y": {"field": "v", "type": "quantitative"},
            "color": {"field": "s", "type": "nominal",
              "scale": {"domain": ["C", "O", "M", "K"], "range": ["#000000", "#7d0ad8", "#2040ff", "#f00a82"]},
              "legend": {"orient": "none", "legendX": 388, "legendY": -1, "title": null,
                "labelExpr": "{'C': 'Control', 'O': 'Operational', 'M': 'Ensemble Mean', 'K': 'Climatology (1981-2010)'}[datum.value]",
                "labelFontSize": 20.5, "labelAlign": "center", "labelOffset": 97, "labelLimit": 400,
                "symbolSize": 0, "symbolOpacity": 0, "symbolStrokeWidth": 0,
                "padding": 3, "rowPadding": 0.7, "strokeColor": "black", "fillColor": "white",
                "encoding": {"labels": {"fill": {"value": {"expr": "scale('color', datum.value)"}}},
                  "legend": {"strokeWidth": {"value": 2}}}}}
          }
        },
        {
          "data": {"name": "oper"},
          "mark": {"type": "line", "strokeWidth": 3},
          "encoding": {
            "x": {"field": "i", "type": "quantitative"},
            "y": {"field": "v", "type": "quantitative"},
            "color": {"datum": "O", "type": "nominal", "legend": null}
          }
        },
        {
          "data": {"values": [{"t": "Concord Municipal Airport"}]},
          "mark": {"type": "text", "align": "center", "baseline": "alphabetic", "fontSize": 34, "color": "black"},
          "encoding": {
            "x": {"datum": 31.12, "type": "quantitative"},
            "y": {"datum": 36.21, "type": "quantitative"},
            "text": {"field": "t"}
          }
        },
        {
          "data": {"values": [{"t": ["ICAO Code: KCON", "Coordinates: 43.20, -71.50", "New_Hampshire, USA"]}]},
          "mark": {"type": "text", "align": "left", "baseline": "alphabetic", "fontSize": 24, "lineHeight": 26.7, "color": "black"},
          "encoding": {
            "x": {"datum": 0.32, "type": "quantitative"},
            "y": {"datum": 34.91, "type": "quantitative"},
            "text": {"field": "t"}
          }
        },
        {
          "data": {"values": [{"t": "Model: 12Z 21AUG2026 GEFS"}]},
          "mark": {"type": "text", "align": "right", "baseline": "alphabetic", "fontSize": 23.5, "color": "black"},
          "encoding": {
            "x": {"datum": 63.68, "type": "quantitative"},
            "y": {"datum": 33.05, "type": "quantitative"},
            "text": {"field": "t"}
          }
        },
        {
          "data": {"values": [{"t": "weathertogether.net"}]},
          "mark": {"type": "text", "align": "right", "baseline": "alphabetic", "fontSize": 25.5, "fontWeight": "bold", "color": "#14a0f0"},
          "encoding": {
            "x": {"datum": 63.68, "type": "quantitative"},
            "y": {"datum": 31.05, "type": "quantitative"},
            "text": {"field": "t"}
          }
        }
      ]
    },
    {
      "layer": [
        {
          "data": {"name": "prcp"},
          "transform": [{"fold": ["a","b","c","d","e","f","g","h","q","j","k","l","m","n","o","p"], "as": ["ens","v"]}],
          "mark": {"type": "line", "color": "#2fd82f", "strokeWidth": 0.8},
          "encoding": {
            "x": {"field": "i", "type": "quantitative"},
            "y": {"field": "v", "type": "quantitative", "scale": {"domain": [0, 2], "nice": false, "zero": false},
              "axis": {"orient": "right", "values": [0, 0.2, 0.4, 0.6, 0.8, 1, 1.2, 1.4, 1.6, 1.8, 2], "labelExpr": "'' + datum.value",
                "grid": false, "title": "6-hour Precipitation (green, inches)", "titlePadding": 17}},
            "detail": {"field": "ens"}
          }
        },
        {
          "data": {"name": "prcp"},
          "transform": [{"fold": ["C", "M"], "as": ["s", "v"]}],
          "mark": {"type": "line", "strokeWidth": 3},
          "encoding": {
            "x": {"field": "i", "type": "quantitative"},
            "y": {"field": "v", "type": "quantitative"},
            "color": {"field": "s", "type": "nominal", "legend": null}
          }
        }
      ]
    }
  ],
  "resolve": {"scale": {"y": "independent"}}
}
